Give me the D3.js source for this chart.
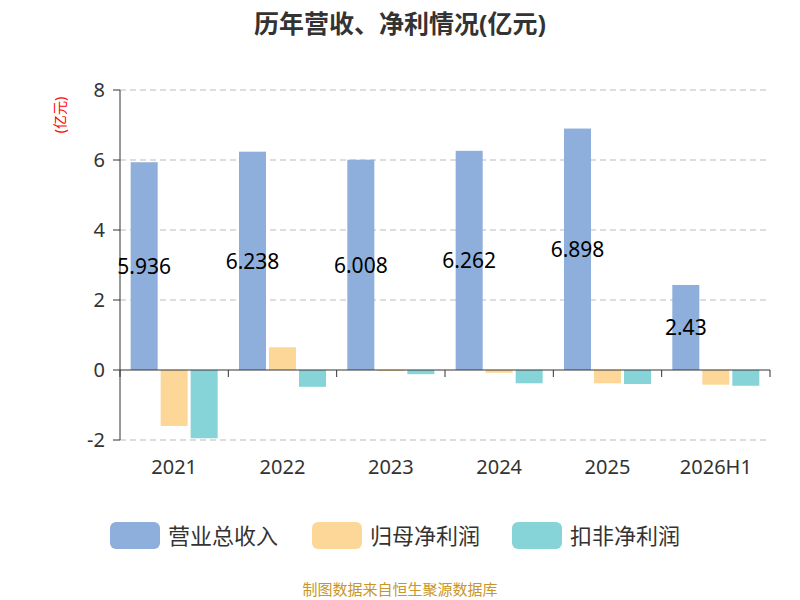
<!DOCTYPE html><html><head><meta charset="utf-8"><script src="https://cdn.jsdelivr.net/npm/d3@7"></script>
<style>body{margin:0;background:#fff}text{font-family:"Noto Sans","Noto Sans CJK SC",sans-serif}</style></head><body>
<svg id="c" width="800" height="600"></svg>
<script>
const categories=["2021","2022","2023","2024","2025","2026H1"];
const revenue=[5.936,6.238,6.008,6.262,6.898,2.43];
const netProfit=[-1.6,0.65,-0.03,-0.08,-0.38,-0.42];
const deductedProfit=[-1.95,-0.48,-0.12,-0.38,-0.4,-0.45];
const seriesNames=["营业总收入","归母净利润","扣非净利润"];
const colors=["#8eaedb","#fdd797","#86d4d8"];
const yTicks=[-2,0,2,4,6,8];
const svg=d3.select("#c");
const x=d3.scaleBand().domain(categories).range([120,770]);
const y=d3.scaleLinear().domain([-2,8]).range([440,90]);
svg.append("text").attr("x",400).attr("y",33).attr("text-anchor","middle").attr("font-size",25).attr("font-weight","bold").attr("fill","#333").text("历年营收、净利情况(亿元)");
svg.append("text").attr("transform","translate(65,115) rotate(-90)").attr("text-anchor","middle").attr("font-size",14).attr("fill","red").text("(亿元)");
yTicks.forEach(t=>{
 if(t!==0) svg.append("line").attr("x1",120).attr("x2",770).attr("y1",y(t)).attr("y2",y(t)).attr("stroke","#bbb").attr("stroke-dasharray","6,4");
 svg.append("line").attr("x1",113).attr("x2",120).attr("y1",y(t)).attr("y2",y(t)).attr("stroke","#333");
 svg.append("text").attr("x",105).attr("y",y(t)+7).attr("text-anchor","end").attr("font-size",20).attr("fill","#333").text(t);
});
svg.append("line").attr("x1",120).attr("x2",120).attr("y1",90).attr("y2",440).attr("stroke","#333");
const data=[revenue,netProfit,deductedProfit];
const bw=27,gap=3;
data.forEach((arr,si)=>{
 svg.selectAll(null).data(arr).enter().append("rect")
  .attr("x",(d,i)=>x(categories[i])+x.bandwidth()/2-1.5*bw-gap+si*(bw+gap))
  .attr("y",d=>y(Math.max(0,d))).attr("width",bw)
  .attr("height",d=>Math.abs(y(d)-y(0))).attr("fill",colors[si]);
});
svg.append("line").attr("x1",120).attr("x2",770).attr("y1",y(0)).attr("y2",y(0)).attr("stroke","#333");
categories.forEach(c=>{
 svg.append("line").attr("x1",x(c)).attr("x2",x(c)).attr("y1",y(0)).attr("y2",y(0)+7).attr("stroke","#333");
 svg.append("text").attr("x",x(c)+x.bandwidth()/2).attr("y",474).attr("text-anchor","middle").attr("font-size",20).attr("fill","#333").text(c);
});
svg.append("line").attr("x1",770).attr("x2",770).attr("y1",y(0)).attr("y2",y(0)+7).attr("stroke","#333");
revenue.forEach((v,i)=>{
 svg.append("text").attr("x",x(categories[i])+x.bandwidth()/2-bw-gap).attr("y",y(v/2)+8).attr("text-anchor","middle").attr("font-size",21).attr("fill","#000").text(v);
});
const lx=[110,312,512];
seriesNames.forEach((n,i)=>{
 svg.append("rect").attr("x",lx[i]).attr("y",522).attr("width",50).attr("height",27).attr("rx",6).attr("fill",colors[i]);
 svg.append("text").attr("x",lx[i]+58).attr("y",544).attr("font-size",22).attr("fill","#333").text(n);
});
svg.append("text").attr("x",400).attr("y",595).attr("text-anchor","middle").attr("font-size",15).attr("fill","#c8962a").text("制图数据来自恒生聚源数据库");
</script></body></html>
